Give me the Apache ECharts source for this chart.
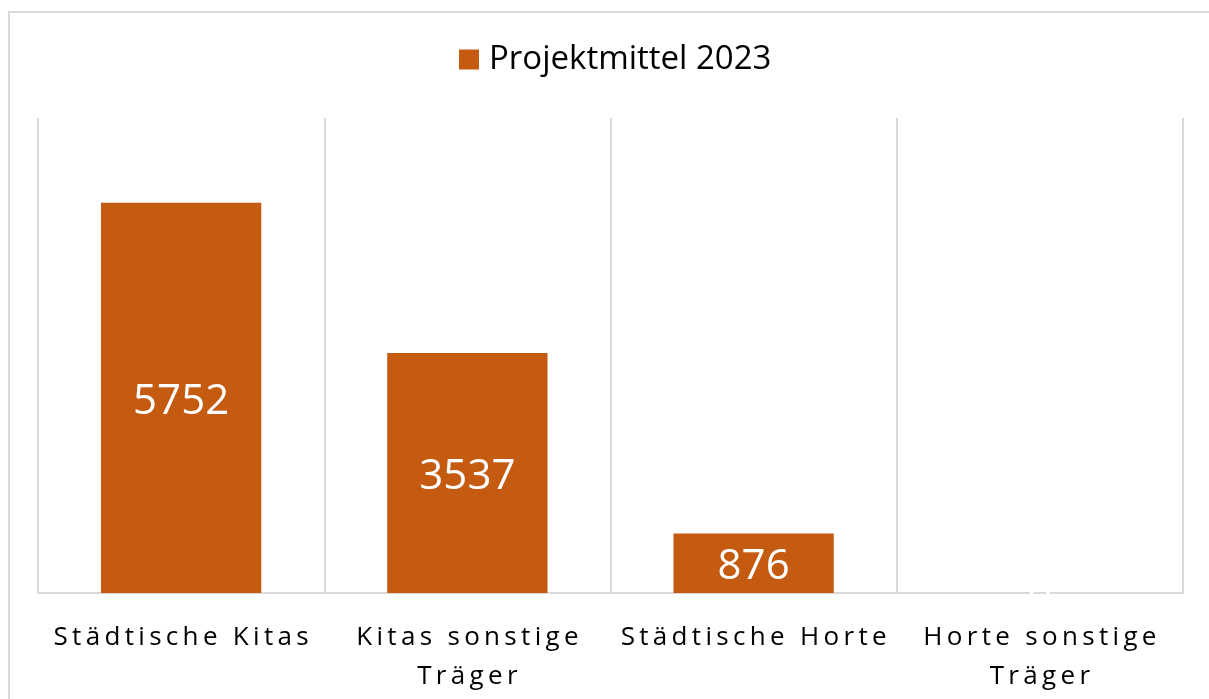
<!DOCTYPE html>
<html>
<head>
<meta charset="utf-8">
<script src="https://cdn.jsdelivr.net/npm/echarts@6/dist/echarts.min.js"></script>
<style>
  html, body { margin: 0; padding: 0; background: #fff; }
  #chart { width: 1209px; height: 699px; }
</style>
</head>
<body>
<div id="chart"></div>
<script>
// Projektmittel 2023 - Säulendiagramm

const categories = ['Städtische Kitas', 'Kitas sonstige\nTräger', 'Städtische Horte', 'Horte sonstige\nTräger'];
const seriesName = 'Projektmittel 2023';
const values = [5752, 3537, 876, 0];

// Excel-ähnliche Zeichenabstände mit schmalen Leerzeichen
const spaced = (s) => s.split('\n').map(line => line.split('').join('\u2009')).join('\n');

const myChart = echarts.init(document.getElementById('chart'));

const option = {
  animation: false,
  graphic: [
    {
      type: 'rect',
      shape: { x: 9, y: 12, width: 1240, height: 720 },
      style: { fill: 'none', stroke: '#d9d9d9', lineWidth: 2 },
      silent: true
    }
  ],
  legend: {
    top: 38,
    left: 454,
    itemWidth: 20,
    itemHeight: 20,
    itemGap: 10,
    icon: 'rect',
    textStyle: {
      fontFamily: 'Open Sans',
      fontSize: 33,
      color: '#000',
      padding: [0, 0, 0, 5]
    }
  },
  grid: {
    left: 38,
    right: 26,
    top: 118,
    bottom: 106
  },
  xAxis: {
    type: 'category',
    data: categories,
    axisLine: { lineStyle: { color: '#d9d9d9', width: 2 } },
    axisTick: { show: false },
    splitLine: { show: true, lineStyle: { color: '#d9d9d9', width: 2 } },
    axisLabel: {
      interval: 0,
      margin: 25,
      color: '#000',
      fontFamily: 'Open Sans',
      fontSize: 26,
      lineHeight: 39,
      formatter: spaced
    }
  },
  yAxis: {
    type: 'value',
    min: 0,
    max: 7000,
    show: false,
    splitLine: { show: false }
  },
  series: [
    {
      name: seriesName,
      type: 'bar',
      data: values,
      barWidth: '56%',
      itemStyle: { color: '#c55a11' },
      label: {
        show: true,
        position: 'inside',
        offset: [0, 4],
        color: '#fff',
        fontFamily: 'Open Sans',
        fontSize: 42
      }
    }
  ]
};

myChart.setOption(option);
</script>
</body>
</html>
